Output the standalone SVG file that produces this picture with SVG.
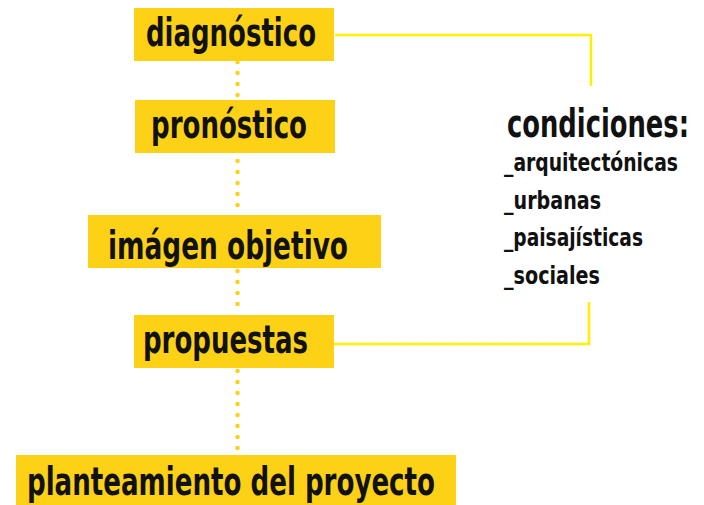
<svg xmlns="http://www.w3.org/2000/svg" width="704" height="505" viewBox="0 0 704 505">
<style>
.box{fill:#FDD116}
.lbl{font-family:"DejaVu Sans Condensed","DejaVu Sans",sans-serif;font-weight:bold;fill:#111}
.big{font-size:39px}
.sm{font-size:25px}
.conn{fill:none;stroke:#FFEF00;stroke-width:2.5}
.dots{fill:none;stroke:#FDD116;stroke-width:4.5;stroke-linecap:round;stroke-dasharray:0 11}
</style>
<rect width="704" height="505" fill="#fff"/>
<g id="connectors">
<line class="dots" x1="237.5" y1="62" x2="237.5" y2="100"/>
<line class="dots" x1="237.5" y1="161" x2="237.5" y2="215"/>
<line class="dots" x1="237.5" y1="271" x2="237.5" y2="315"/>
<line class="dots" x1="237.5" y1="371" x2="237.5" y2="455"/>
<polyline class="conn" points="335,35 591,35 591,86"/>
<polyline class="conn" points="333,344 589,344 589,302"/>
</g>
<g id="diagnostico">
<rect class="box" x="134" y="8" width="200" height="53"/>
<text class="lbl big" x="146" y="46" textLength="170" lengthAdjust="spacingAndGlyphs">diagnóstico</text>
</g>
<g id="pronostico">
<rect class="box" x="135" y="100" width="200" height="53"/>
<text class="lbl big" x="151" y="138" textLength="156" lengthAdjust="spacingAndGlyphs">pronóstico</text>
</g>
<g id="imagen-objetivo">
<rect class="box" x="88" y="215" width="293" height="53"/>
<text class="lbl big" x="108" y="259" textLength="240" lengthAdjust="spacingAndGlyphs">imágen objetivo</text>
</g>
<g id="propuestas">
<rect class="box" x="134" y="315" width="200" height="53"/>
<text class="lbl big" x="143" y="353" textLength="165" lengthAdjust="spacingAndGlyphs">propuestas</text>
</g>
<g id="planteamiento">
<rect class="box" x="16" y="455" width="440" height="55"/>
<text class="lbl big" x="27" y="495" textLength="408" lengthAdjust="spacingAndGlyphs">planteamiento del proyecto</text>
</g>
<g id="condiciones">
<text class="lbl big" transform="translate(507,137) scale(0.65,1)" textLength="280" lengthAdjust="spacingAndGlyphs">condiciones:</text>
<text class="lbl sm" transform="translate(504,171) scale(0.7,1)" textLength="248.6" lengthAdjust="spacingAndGlyphs">_arquitectónicas</text>
<text class="lbl sm" transform="translate(504,209) scale(0.7,1)" textLength="138.6" lengthAdjust="spacingAndGlyphs">_urbanas</text>
<text class="lbl sm" transform="translate(504,246) scale(0.7,1)" textLength="198.6" lengthAdjust="spacingAndGlyphs">_paisajísticas</text>
<text class="lbl sm" transform="translate(504,284) scale(0.7,1)" textLength="137.1" lengthAdjust="spacingAndGlyphs">_sociales</text>
</g>
</svg>
